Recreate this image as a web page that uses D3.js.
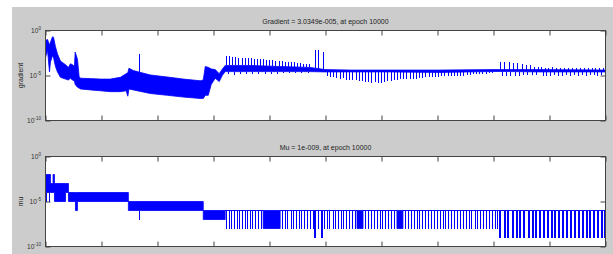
<!DOCTYPE html>
<html>
<head>
<meta charset="utf-8">
<script src="https://cdn.jsdelivr.net/npm/d3@7"></script>
<style>
  body { margin: 0; background: #fff; }
  svg { display: block; }
  text { font-family: "Liberation Sans", Arial, sans-serif; fill: #222; }
</style>
</head>
<body>
<div id="chart"></div>
<script>
// ---- data ----
var epochTicks = [0, 1000, 2000, 3000, 4000, 5000, 6000, 7000, 8000, 9000, 10000];
var yTicks = [1, 1e-5, 1e-10];
var yTickExp = ["0", "-5", "-10"];

var gradTitle = "Gradient = 3.0349e-005, at epoch 10000";
var muTitle = "Mu = 1e-009, at epoch 10000";

// gradient: envelope of the dense trace
var gradBandEpoch = [0, 36, 71, 89, 125, 143, 178, 214, 267, 357, 410, 445, 481, 517, 530, 571, 600, 624, 802, 981, 1159, 1337, 1440, 1470, 1490, 1569, 1872, 2175, 2461, 2764, 2817, 2853, 2906, 2960, 3031, 3102, 3156, 3209, 3655, 4190, 4725, 4992, 5438, 6151, 7043, 8024, 8113, 8826, 10000];
var gradBandHi = [7.9e-2, 1.0e-1, 2.5e-2, 5.0e-2, 2.0e-1, 1.8e-1, 1.6e-2, 2.5e-3, 4.0e-4, 1.6e-4, 7.9e-5, 2.0e-4, 1.6e-4, 1.0e-4, 4.0e-3, 6.3e-4, 7.9e-6, 5.0e-6, 4.5e-6, 4.0e-6, 4.0e-6, 6.3e-6, 1.6e-5, 2.0e-5, 6.3e-5, 3.5e-5, 1.15e-5, 6.8e-6, 4.0e-6, 2.6e-6, 3.2e-6, 1.0e-4, 8.0e-5, 5.4e-5, 4.5e-5, 1.6e-5, 5.0e-5, 1.3e-4, 1.3e-4, 1.0e-4, 7.9e-5, 4.5e-5, 4.0e-5, 4.0e-5, 4.0e-5, 4.5e-5, 4.5e-5, 4.5e-5, 4.0e-5];
var gradBandLo = [1.0e-3, 6.3e-3, 2.5e-5, 3.2e-4, 1.6e-3, 1.0e-3, 1.0e-4, 2.5e-5, 6.3e-6, 4.0e-6, 3.2e-6, 5.0e-6, 3.2e-6, 2.5e-6, 1.0e-6, 5.0e-7, 4.0e-7, 3.2e-7, 2.5e-7, 2.0e-7, 1.6e-7, 1.6e-7, 2.0e-7, 5.0e-8, 3.2e-7, 2.5e-7, 1.0e-7, 6.3e-8, 4.0e-8, 2.8e-8, 2.8e-8, 6.3e-8, 6.3e-8, 1.0e-6, 5.0e-6, 2.1e-6, 1.0e-5, 2.7e-5, 2.7e-5, 2.7e-5, 2.7e-5, 2.5e-5, 2.5e-5, 2.5e-5, 2.2e-5, 2.8e-5, 2.8e-5, 2.5e-5, 2.5e-5];

// gradient: upward spikes
var gradUpEpoch = [1676,
  3230, 3290, 3345, 3400, 3455, 3510, 3565, 3620, 3675, 3730, 3785, 3840, 3895, 3950,
  4005, 4060, 4115, 4170, 4225, 4280, 4335, 4390, 4445, 4500, 4555, 4610, 4665, 4720,
  4815, 4880, 4957,
  8130, 8202, 8291, 8363, 8434, 8523, 8594, 8666, 8737, 8808,
  8850, 8920, 8990, 9060, 9130, 9200, 9270, 9340, 9410, 9480, 9550, 9620, 9690, 9760, 9830, 9900, 9965];
var gradUpTip = [2.6e-3,
  1.6e-3, 1.4e-3, 1.2e-3, 1.15e-3, 1.0e-3, 9.5e-4, 9.0e-4, 8.5e-4, 8.2e-4, 7.5e-4, 7.2e-4, 6.5e-4, 6.2e-4, 5.5e-4,
  5.3e-4, 4.8e-4, 4.6e-4, 4.0e-4, 3.7e-4, 3.4e-4, 3.2e-4, 2.9e-4, 2.8e-4, 2.5e-4, 2.4e-4, 2.1e-4, 2.0e-4, 1.8e-4,
  7.5e-3, 7.0e-3, 4.5e-3,
  3.5e-4, 3.2e-4, 3.0e-4, 2.3e-4, 2.2e-4, 2.0e-4, 1.5e-4, 1.3e-4, 1.0e-4, 9.0e-5,
  8.0e-5, 7.5e-5, 7.0e-5, 8.0e-5, 7.0e-5, 6.5e-5, 7.5e-5, 7.0e-5, 6.5e-5, 7.0e-5, 6.5e-5, 7.0e-5, 6.3e-5, 6.8e-5, 6.3e-5, 6.5e-5, 6.0e-5];

// gradient: downward spikes
var gradDownEpoch = [3260, 3370, 3480, 3590, 3700, 3810, 3920, 4030, 4140, 4250, 4360, 4470, 4580, 4690,
  5040, 5095, 5150, 5205, 5260, 5320, 5375, 5430, 5490, 5545, 5600, 5660, 5715, 5770, 5830, 5885, 5940, 6000,
  6055, 6110, 6170, 6225, 6280, 6340, 6395, 6450, 6510, 6565, 6620, 6680, 6735, 6790, 6850, 6905, 6960, 7020,
  7075, 7130, 7190, 7245, 7300, 7360, 7415, 7470, 7530, 7585, 7640, 7700, 7755, 7810, 7870, 7925, 7980,
  8160, 8235, 8310, 8385, 8460, 8540, 8610, 8690, 8760,
  8885, 8955, 9025, 9095, 9165, 9235, 9305, 9375, 9445, 9515, 9585, 9655, 9725, 9795, 9865, 9935];
var gradDownTip = [1.3e-5, 1.2e-5, 1.4e-5, 1.3e-5, 1.5e-5, 1.4e-5, 1.6e-5, 1.5e-5, 1.6e-5, 1.8e-5, 1.7e-5, 1.8e-5, 2.0e-5, 1.9e-5,
  7.9e-6, 6.3e-6, 7.0e-6, 5.0e-6, 4.5e-6, 5.0e-6, 3.5e-6, 3.2e-6, 3.5e-6, 2.8e-6, 2.5e-6, 2.2e-6, 2.0e-6, 1.8e-6, 1.6e-6, 1.8e-6, 1.6e-6, 1.5e-6,
  1.8e-6, 2.2e-6, 2.5e-6, 3.2e-6, 3.5e-6, 4.0e-6, 3.8e-6, 4.0e-6, 4.2e-6, 4.5e-6, 4.0e-6, 5.0e-6, 5.5e-6, 6.0e-6, 6.3e-6, 7.0e-6, 7.5e-6, 7.0e-6,
  8.0e-6, 8.5e-6, 8.0e-6, 9.0e-6, 9.5e-6, 1.0e-5, 9.5e-6, 1.0e-5, 1.1e-5, 1.2e-5, 1.3e-5, 1.4e-5, 1.4e-5, 1.5e-5, 1.6e-5, 1.7e-5, 1.8e-5,
  9.0e-6, 9.0e-6, 1.0e-5, 1.0e-5, 1.0e-5, 1.1e-5, 1.1e-5, 1.2e-5, 1.2e-5,
  9.0e-6, 1.0e-5, 9.0e-6, 1.1e-5, 1.0e-5, 9.0e-6, 1.1e-5, 1.0e-5, 1.2e-5, 1.0e-5, 1.1e-5, 1.0e-5, 1.2e-5, 1.1e-5, 1.0e-5, 1.2e-5];

// mu: step envelope
var muBandEpoch = [0, 89, 135, 160, 357, 410, 535, 571, 1480, 2817, 3209, 3887, 4190, 5563, 5670, 6276, 6383, 10000];
var muBandHi = [1e-2, 1e-3, 1e-2, 1e-3, 1e-3, 1e-4, 1e-4, 1e-4, 1e-5, 1e-6, 1e-6, 1e-6, 1e-6, 1e-6, 1e-6, 1e-6, 1e-6, 1e-6];
var muBandLo = [1e-4, 1e-4, 1e-4, 1e-5, 1e-4, 1e-5, 1e-6, 1e-5, 1e-6, 1e-7, 1e-6, 1e-8, 1e-6, 1e-8, 1e-6, 1e-8, 1e-6, 1e-6];

// mu: isolated drops (epoch, value)
var muDropEpoch = [20, 80, 1676];
var muDropValue = [1e-5, 1e-5, 1e-7];
// mu: epochs where mu fell to 1e-8
var muDrop8 = [3230, 3280, 3325, 3375, 3420, 3470, 3515, 3565, 3610, 3660, 3705, 3755, 3800, 3850,
  4230, 4280, 4330, 4385, 4430, 4480, 4535, 4580, 4630, 4685, 4730, 4780, 4880, 4985, 5030, 5080,
  5135, 5180, 5230, 5285, 5330, 5380, 5435, 5480, 5530,
  5715, 5765, 5820, 5870, 5925, 5975, 6025, 6080, 6130, 6185, 6235,
  6430, 6480, 6530, 6585, 6635, 6685, 6740, 6790, 6840, 6895, 6945, 6995, 7050, 7100, 7150, 7205,
  7255, 7305, 7360, 7410, 7460, 7515, 7565, 7615, 7670, 7720, 7770, 7825, 7875, 7925, 7980, 8030, 8080];
// mu: epochs where mu fell to 1e-9
var muDrop9 = [4815, 4950,
  8130, 8207, 8273, 8349, 8421, 8487, 8558, 8635, 8707, 8767, 8838, 8902, 8974, 9045,
  9111, 9183, 9254, 9320, 9391, 9463, 9527, 9599, 9670, 9736, 9808, 9879, 9945, 10000];

// ---- drawing ----
var width = 613, height = 254;
var blue = "#0000ff";

var svg = d3.select("#chart")
  .append("svg")
    .attr("width", width)
    .attr("height", height);

svg.append("rect")
  .attr("x", 12).attr("y", 7)
  .attr("width", width - 12).attr("height", height - 7)
  .attr("fill", "#cccccc");

var x = d3.scaleLinear().domain([0, 10000]).range([45.5, 605.5]);

function zipSpikes(es, vs) {
  return es.map(function(e, i) { return [e, vs[i]]; });
}

function drawPanel(p) {
  var y = d3.scaleLog().domain([1e-10, 1]).range([p.bottom, p.top]);
  var g = svg.append("g");

  g.append("rect")
    .attr("x", x.range()[0]).attr("y", p.top)
    .attr("width", x.range()[1] - x.range()[0]).attr("height", p.bottom - p.top)
    .attr("fill", "#fff");

  g.append("clipPath").attr("id", "clip-" + p.name)
    .append("rect")
      .attr("x", x.range()[0]).attr("y", p.top)
      .attr("width", x.range()[1] - x.range()[0]).attr("height", p.bottom - p.top);

  var plot = g.append("g").attr("clip-path", "url(#clip-" + p.name + ")");

  var area = d3.area()
    .x(function(d, i) { return x(p.bandEpoch[i]); })
    .y0(function(d, i) { return y(p.bandLo[i]); })
    .y1(function(d, i) { return y(p.bandHi[i]); })
    .curve(p.step ? d3.curveStepAfter : d3.curveLinear);

  plot.append("path")
    .datum(p.bandEpoch)
    .attr("d", area)
    .attr("fill", blue)
    .attr("stroke", blue)
    .attr("stroke-width", 0.8);

  // where a spike leaves the band
  var hiY, loY;
  if (p.step) {
    hiY = d3.scaleThreshold().domain(p.bandEpoch.slice(1)).range(p.bandHi.map(y));
    loY = d3.scaleThreshold().domain(p.bandEpoch.slice(1)).range(p.bandLo.map(y));
  } else {
    hiY = d3.scaleLinear().domain(p.bandEpoch).range(p.bandHi.map(y));
    loY = d3.scaleLinear().domain(p.bandEpoch).range(p.bandLo.map(y));
  }

  p.spikes.forEach(function(s) {
    // snap to the pixel grid, MATLAB draws these without smoothing
    var px = function(d) { return Math.floor(x(d[0])) + (s.w % 2 ? 0.5 : 0); };
    plot.selectAll(null)
      .data(s.data)
      .enter()
      .append("line")
        .attr("x1", px)
        .attr("x2", px)
        .attr("y1", function(d) { return y(d[1]); })
        .attr("y2", function(d) { return y(d[1]) < hiY(d[0]) ? hiY(d[0]) : loY(d[0]); })
        .attr("stroke", blue)
        .attr("stroke-width", s.w)
        .attr("shape-rendering", "crispEdges");
  });

  // box
  g.append("rect")
    .attr("x", x.range()[0]).attr("y", p.top)
    .attr("width", x.range()[1] - x.range()[0]).attr("height", p.bottom - p.top)
    .attr("fill", "none").attr("stroke", "#444").attr("stroke-width", 1);

  // inward ticks on all four sides
  var axes = [
    [d3.axisBottom(x).tickValues(epochTicks), "translate(0," + p.bottom + ")"],
    [d3.axisTop(x).tickValues(epochTicks), "translate(0," + p.top + ")"],
    [d3.axisLeft(y).tickValues(yTicks), "translate(" + x.range()[0] + ",0)"],
    [d3.axisRight(y).tickValues(yTicks), "translate(" + x.range()[1] + ",0)"]
  ];
  axes.forEach(function(a) {
    var ax = g.append("g")
      .attr("transform", a[1])
      .call(a[0].tickSize(-5).tickSizeOuter(0).tickFormat(""));
    ax.select(".domain").remove();
    ax.selectAll(".tick line").attr("stroke", "#444");
  });

  // tick labels 10^n
  yTicks.forEach(function(v, i) {
    var t = g.append("text")
      .attr("x", 41)
      .attr("y", y(v) + 2.3)
      .attr("text-anchor", "end")
      .style("font-size", "6.6px")
      .style("fill", "#333");
    t.append("tspan").text("10");
    t.append("tspan").attr("dy", -3).style("font-size", "4.6px").text(yTickExp[i]);
  });

  g.append("text")
    .attr("x", (x.range()[0] + x.range()[1]) / 2)
    .attr("y", p.top - 7)
    .attr("text-anchor", "middle")
    .style("font-size", "7px")
    .text(p.title);

  g.append("text")
    .attr("transform", "translate(23.3," + ((p.top + p.bottom) / 2) + ") rotate(-90)")
    .attr("text-anchor", "middle")
    .style("font-size", "7px")
    .text(p.ylabel);
}

drawPanel({
  name: "grad", top: 30.5, bottom: 120.5, title: gradTitle, ylabel: "gradient",
  bandEpoch: gradBandEpoch, bandHi: gradBandHi, bandLo: gradBandLo, step: false,
  spikes: [
    {data: zipSpikes(gradUpEpoch, gradUpTip), w: 1},
    {data: zipSpikes(gradDownEpoch, gradDownTip), w: 1}
  ]
});

drawPanel({
  name: "mu", top: 156.5, bottom: 246.5, title: muTitle, ylabel: "mu",
  bandEpoch: muBandEpoch, bandHi: muBandHi, bandLo: muBandLo, step: true,
  spikes: [
    {data: zipSpikes(muDropEpoch, muDropValue), w: 1},
    {data: muDrop8.map(function(e) { return [e, 1e-8]; }), w: 1},
    {data: muDrop9.map(function(e) { return [e, 1e-9]; }), w: 2}
  ]
});
</script>
</body>
</html>
